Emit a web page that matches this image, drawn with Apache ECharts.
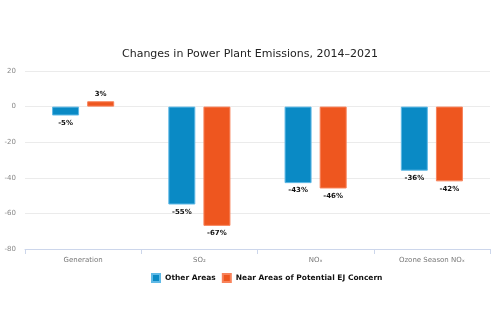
<!DOCTYPE html>
<html><head><meta charset="utf-8">
<script src="https://cdn.jsdelivr.net/npm/echarts@6/dist/echarts.min.js"></script>
<style>html,body{margin:0;padding:0;background:#fff}#c{width:500px;height:333px}</style>
</head><body><div id="c"></div>
<script>
var categories = ['Generation', 'SO₂', 'NOₓ', 'Ozone Season NOₓ'];
var otherAreas = [-5, -55, -43, -36];
var nearEJ = [3, -67, -46, -42];
var seriesNames = ['Other Areas', 'Near Areas of Potential EJ Concern'];
var yTicks = { min: -80, max: 20, interval: 20 };

var chart = echarts.init(document.getElementById('c'));
var font = 'DejaVu Sans';
function lbl(v) { return v.value + '%'; }
var labelStyle = { show: true, position: 'bottom', formatter: lbl, fontSize: 7, fontWeight: 'bold', color: '#111', distance: 4 };
chart.setOption({
  animation: false,
  textStyle: { fontFamily: font },
  title: { text: 'Changes in Power Plant Emissions, 2014–2021', left: 'center', top: 44,
    textStyle: { fontFamily: font, fontSize: 11, fontWeight: 'normal', color: '#222' } },
  legend: { top: 268, left: 146, itemWidth: 8, itemHeight: 8, itemGap: 6, icon: 'rect',
    textStyle: { fontFamily: font, fontSize: 7.5, fontWeight: 'bold', color: '#111' } },
  grid: { left: 25, right: 10, top: 71, bottom: 84, containLabel: false },
  xAxis: { type: 'category', data: categories,
    axisLine: { onZero: false, lineStyle: { color: '#ccd6eb' } },
    axisTick: { show: true, lineStyle: { color: '#ccd6eb' } },
    axisLabel: { fontSize: 7, color: '#777', margin: 8 } },
  yAxis: { type: 'value', min: yTicks.min, max: yTicks.max, interval: yTicks.interval,
    axisLabel: { fontSize: 7, color: '#888', margin: 9 },
    splitLine: { lineStyle: { color: '#ebebeb' } } },
  series: [
    { name: seriesNames[0], type: 'bar', data: otherAreas, barWidth: 27, barGap: '30%',
      itemStyle: { color: '#0a8ac5', borderColor: '#5fb9e6', borderWidth: 1 },
      label: labelStyle },
    { name: seriesNames[1], type: 'bar', barWidth: 27,
      data: nearEJ.map(function (v) { return v >= 0 ? { value: v, label: { position: 'top' } } : v; }),
      itemStyle: { color: '#ee561f', borderColor: '#f8825a', borderWidth: 1 },
      label: labelStyle }
  ]
});
</script></body></html>
